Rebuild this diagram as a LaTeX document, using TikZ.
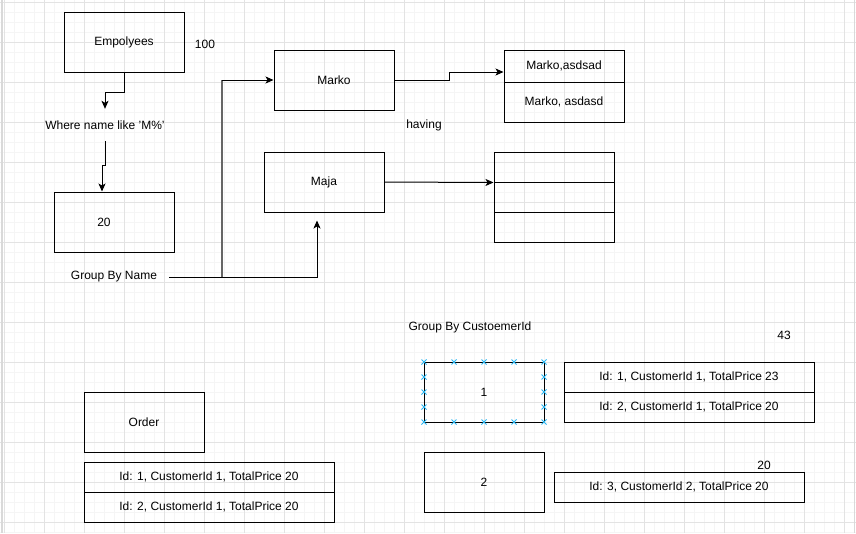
\documentclass[tikz,border=0pt]{standalone}
\usepackage{fontspec}
\setmainfont{Liberation Sans}
\usetikzlibrary{arrows.meta}

\definecolor{selblue}{RGB}{41,182,242}

\tikzset{
  box/.style={draw,line width=1pt,minimum width=120pt,minimum height=60pt,inner sep=0pt},
  row/.style={draw,line width=1pt,minimum width=#1,inner sep=0pt},
  lbl/.style={inner sep=0pt},
  arr/.style={line width=1pt,-{Stealth[length=8pt,width=7pt,inset=2pt]}},
  gridminor/.style={draw=black!4,line width=.6pt},
  gridmajor/.style={draw=black!11,line width=.8pt},
  mark x/.style={draw=selblue,line width=.9pt}
}

\begin{document}
\begin{tikzpicture}[x=1pt,y=-1pt,font=\fontsize{12}{14}\selectfont]
  \useasboundingbox (0,0) rectangle (856,533);
  % background grid
  \foreach \gx in {4,14,...,854} \draw[gridminor] (\gx,0) -- (\gx,533);
  \foreach \gy in {2,12,...,532} \draw[gridminor] (0,\gy) -- (856,\gy);
  \foreach \gx in {4,44,...,844} \draw[gridmajor] (\gx,0) -- (\gx,533);
  \foreach \gy in {2,42,...,522} \draw[gridmajor] (0,\gy) -- (856,\gy);
  \draw[black!15,line width=1.5pt] (2,0) -- (2,533);
  \draw[black!15,line width=1.5pt] (854.5,0) -- (854.5,533);

  % employees part
  \node[box] (emp) at (124,42) {Empolyees};
  \node[lbl] (n100) at (205,44) {100};
  \node[lbl,minimum height=32pt] (where) at (105,125) {Where name like 'M\%'};
  \node[box] (n20) at (114,222) {\hspace*{-20pt}20};
  \node[lbl,minimum width=110pt] (gbn) at (114,277) {Group By Name};
  \coordinate (split) at (222,277);

  \node[box] (marko) at (334,80) {Marko};
  \node[box] (maja) at (324,182) {Maja};
  \node[lbl] (having) at (424,125) {having};

  \node[row=120pt,minimum height=32pt] (ma1) at (564,66) {Marko,asdsad};
  \node[row=120pt,minimum height=40pt] (ma2) at (564,102) {Marko, asdasd};
  \node[row=120pt,minimum height=30pt] (mj1) at (554,167) {};
  \node[row=120pt,minimum height=30pt] (mj2) at (554,197) {};
  \node[row=120pt,minimum height=30pt] (mj3) at (554,227) {};

  \draw[arr] (emp.south) -- ++(0,20) -| (where.north);
  \draw[arr] (where.south) -- ++(0,24) -| ([xshift=-12pt]n20.north);
  \draw[arr] (gbn.east) -| ([xshift=-7pt,yshift=-8pt]maja.south);
  \coordinate (bend) at (split |- marko.west);
  \draw[line width=1.3pt,black!60] (split) -- (bend);
  \draw[arr] (bend) -- (marko.west);
  \draw[arr] (marko.east) -- ++(55,0) |- ([yshift=-6pt]ma1.west);
  \draw[arr] (maja.east) -- (mj1.south west);

  % orders part
  \node[box] (order) at (144,422) {Order};
  \node[row=250pt,minimum height=30pt] (o1) at (209,477) {Id: 1, CustomerId 1, TotalPrice 20};
  \node[row=250pt,minimum height=30pt] (o2) at (209,507) {Id: 2, CustomerId 1, TotalPrice 20};

  \node[lbl] (gbc) at (470,327) {Group By CustoemerId};
  \node[lbl] (n43) at (784,335) {43};
  \node[box] (c1) at (484,392) {1};
  \foreach \mx in {424,454,...,544} \foreach \my in {362,422}
    \draw[mark x] (\mx-2.5,\my-2.5) -- (\mx+2.5,\my+2.5) (\mx-2.5,\my+2.5) -- (\mx+2.5,\my-2.5);
  \foreach \mx in {424,544} \foreach \my in {377,392,407}
    \draw[mark x] (\mx-2.5,\my-2.5) -- (\mx+2.5,\my+2.5) (\mx-2.5,\my+2.5) -- (\mx+2.5,\my-2.5);
  \node[row=250pt,minimum height=30pt] (c1a) at (689,377) {Id: 1, CustomerId 1, TotalPrice 23};
  \node[row=250pt,minimum height=30pt] (c1b) at (689,407) {Id: 2, CustomerId 1, TotalPrice 20};

  \node[box] (c2) at (484,482) {2};
  \node[lbl] (n20b) at (764,465) {20};
  \node[row=250pt,minimum height=30pt] (c2a) at (679,487) {Id: 3, CustomerId 2, TotalPrice 20};
\end{tikzpicture}
\end{document}
